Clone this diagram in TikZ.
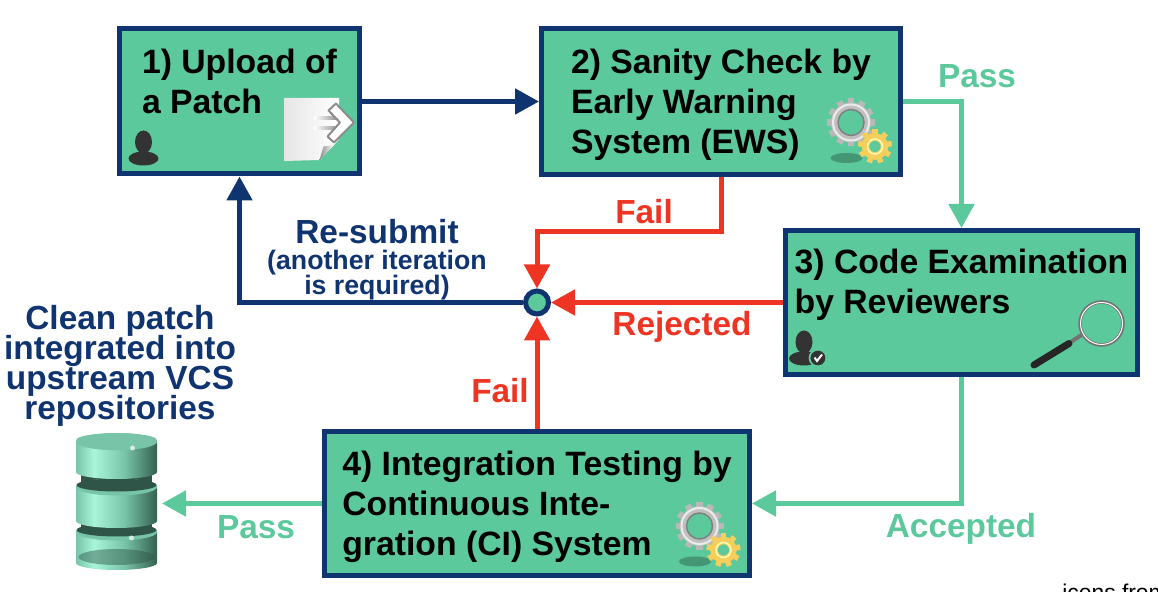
\documentclass[tikz,border=0pt]{standalone}
\usepackage{fontspec}
\setmainfont{Liberation Sans}
\usetikzlibrary{arrows.meta}

\definecolor{stepgreen}{HTML}{5BC99B}
\definecolor{navyline}{HTML}{0F3470}
\definecolor{redline}{HTML}{EE3524}
\definecolor{dbdark}{HTML}{2F5548}
\definecolor{dblight}{HTML}{A8F5DA}
\definecolor{dbside}{HTML}{78C4A8}
\definecolor{dbshadow}{HTML}{35604F}
\definecolor{gearyellow}{HTML}{F6CE5C}

\pgfdeclarehorizontalshading{dbshade}{100bp}{color(0bp)=(dbside); color(25bp)=(dbside); color(36bp)=(dblight); color(55bp)=(dbside); color(75bp)=(dbshadow); color(100bp)=(dbshadow)}

\newcommand{\tightlines}{\setlength{\lineskiplimit}{-10pt}}
\newcommand{\steptop}{\rule{0pt}{18pt}}

\tikzset{
	stepbox/.style={draw=navyline, fill=stepgreen, line width=.1cm, align=left, inner ysep=0pt, font=\fontsize{19.2}{22.8}\selectfont\bfseries},
	flow/.style={line width=.1cm, -{Triangle[length=.48cm,width=.5cm]}},
	flowtext/.style={font=\fontsize{19}{22.8}\selectfont\bfseries},
	pics/usericon/.style={code={
		\fill[black!80] (0,.16) ellipse (.17 and .23);
		\fill[black!80] (0,-.17) ellipse (.3 and .14);
		\fill[black!80] (-.09,0) rectangle (.09,-.1);
	}},
	pics/gears/.style={code={
		\fill[black, opacity=.25] (-.09,-.71) ellipse (.32 and .1);
		\foreach \a in {0,30,...,330}
			\fill[black!28, rotate=\a] (-.065,.33) rectangle (.065,.48);
		\draw[black!25, line width=.14cm] (0,0) circle (.33);
		\draw[black!8, line width=.04cm] (0,0) circle (.36);
		\draw[black!50, line width=.03cm] (0,0) circle (.26);
		\begin{scope}[shift={(.48,-.48)}]
			\foreach \a in {0,40,...,320}
				\fill[gearyellow, rotate=\a] (-.055,.2) rectangle (.055,.34);
			\draw[gearyellow, line width=.15cm] (0,0) circle (.19);
			\draw[yellow!30, line width=.03cm] (0,0) circle (.15);
		\end{scope}
	}},
}

\begin{document}
\begin{tikzpicture}
	\useasboundingbox (0,0) rectangle (23.16,11.84);

	\node[stepbox, minimum width=4.8cm, minimum height=2.9cm] (upload) at (4.79,9.81) {1) Upload of\\a Patch\\[-.24cm] \strut};
	\node[stepbox, minimum width=7.18cm, minimum height=2.92cm] (sanity) at (14.42,9.81) {\steptop 2) Sanity Check by\\Early Warning\\System (EWS)};
	\node[stepbox, minimum width=7.04cm, minimum height=2.88cm] (review) at (19.23,5.79) {3) Code Examination\\by Reviewers\\[-.2cm] \strut};
	\node[stepbox, minimum width=8.5cm, minimum height=2.88cm] (integration) at (10.74,1.77) {\steptop 4) Integration Testing by\\Continuous Inte-\\gration (CI) System};
	\node[circle, draw=navyline, fill=stepgreen, line width=.1cm, minimum size=.46cm, inner sep=0pt] (junction) at (10.74,5.79) {};

	\coordinate (failturn) at (14.42,7.2);
	\coordinate (dbport) at (3.24,1.77);

	\draw[flow, navyline] (upload.east) -- (sanity.west);
	\draw[flow, navyline] (junction) -| (upload.south);
	\draw[flow, stepgreen] (sanity.east) -| (review.north);
	\draw[flow, stepgreen] (review.south) |- (integration.east);
	\draw[flow, stepgreen] (integration.west) -- (dbport);
	\draw[flow, redline] (sanity.south) -- (failturn) -| (junction);
	\draw[flow, redline] (review.west) -- (junction);
	\draw[flow, redline] (integration.north) -- (junction);

	\node[flowtext, text=stepgreen] (passreview) at (19.54,10.32) {Pass};
	\node[flowtext, text=redline] (failsanity) at (12.88,7.6) {Fail};
	\node[flowtext, text=navyline] (resubmit) at (7.54,7.2) {Re-submit};
	\node[font=\fontsize{15.2}{14.2}\selectfont\bfseries\tightlines, text=navyline, align=center] (iteration) at (7.54,6.34) {(another iteration\\is required)};
	\node[flowtext, text=redline] (rejected) at (13.64,5.3) {Rejected};
	\node[flowtext, text=redline] (failci) at (10,4.02) {Fail};
	\node[flowtext, text=stepgreen] (accepted) at (19.22,1.26) {Accepted};
	\node[flowtext, text=stepgreen] (passci) at (5.12,1.3) {Pass};
	\node[font=\fontsize{19}{17}\selectfont\bfseries\tightlines, text=navyline, align=center] (clean) at (2.4,4.52) {Clean patch\\integrated into\\upstream VCS\\repositories};
	\node[font=\fontsize{13}{15}\selectfont, anchor=base west, inner sep=0pt] (credit) at (21.24,-.18) {icons from};

	\pic (uploaduser) at (2.87,8.84) {usericon};
	\pic (reviewuser) at (16.08,4.84) {usericon};
	\fill[black!80] (16.36,4.68) circle (.15);
	\draw[stepgreen, line width=.035cm] (16.36,4.68) circle (.17);
	\draw[white, line width=.04cm] (16.29,4.69) -- (16.34,4.62) -- (16.44,4.75);

	\pic (sanitygears) at (17.02,9.39) {gears};
	\pic (cigears) at (13.99,1.32) {gears};

	\shade[left color=black!10, right color=white] (5.68,9.88) -- (6.78,9.88) -- (6.78,9.05) -- (6.68,8.94) -- (6.39,8.64) -- (5.68,8.62) -- cycle;
	\shade[left color=black!45, right color=white] (6.39,8.64) -- (6.47,8.91) -- (6.68,8.94) -- cycle;
	\shade[left color=white, right color=black!45] (6.28,9.44) rectangle (6.78,9.5);
	\shade[left color=white, right color=black!45] (6.28,9.24) rectangle (6.78,9.3);
	\draw[black!45, fill=white, line width=.04cm, line join=round] (6.72,9.77) -- (7.08,9.39) -- (6.68,8.99) -- (6.55,9.11) -- (6.8,9.39) -- (6.57,9.63) -- cycle;

	\draw[black!55, line width=.08cm] (21.63,5.14) -- (21.43,5.01);
	\draw[black!85, line width=.14cm, line cap=round] (21.38,4.97) -- (20.68,4.54);
	\draw[black!55, line width=.07cm] (22.03,5.37) circle (.43);
	\draw[white, line width=.02cm] (22.03,5.37) circle (.42);

	\fill[dbdark] (1.62,.9) rectangle (3.04,2.6);
	\foreach \ytop/\ybot/\lid in {1.2/.58/dbdark, 2.1/1.42/dbdark, 3.006/2.4/dbside}{
		\shade[shading=dbshade] (1.52,\ytop) -- (1.52,\ybot) arc[start angle=180, end angle=360, x radius=.81, y radius=.14] -- (3.14,\ytop) arc[start angle=0, end angle=180, x radius=.81, y radius=.17] -- cycle;
		\fill[dbside] (2.33,\ytop) ellipse (.81 and .17);
		\fill[\lid] (2.33,\ytop+.04) ellipse (.8 and .13);
	}
	\fill[dbdark, opacity=.45] (2.33,.7) ellipse (.76 and .16);
	\fill[white, opacity=.7] (2.65,2.88) circle (.05);
	\fill[white, opacity=.7] (2.63,1.08) circle (.05);
\end{tikzpicture}
\end{document}
